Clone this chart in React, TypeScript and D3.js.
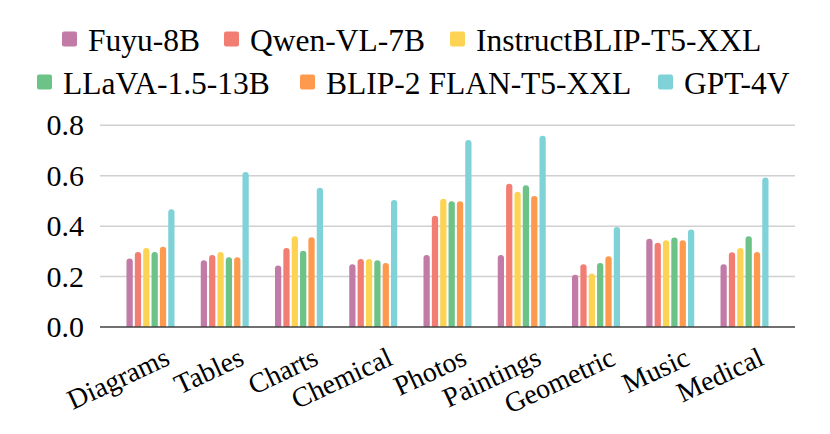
import React, { useEffect, useRef } from "react";
import * as d3 from "d3";

const categories = [
  "Diagrams",
  "Tables",
  "Charts",
  "Chemical",
  "Photos",
  "Paintings",
  "Geometric",
  "Music",
  "Medical",
];
const models = [
  "Fuyu-8B",
  "Qwen-VL-7B",
  "InstructBLIP-T5-XXL",
  "LLaVA-1.5-13B",
  "BLIP-2 FLAN-T5-XXL",
  "GPT-4V",
];
const colors = ["#c17ba6", "#f27d72", "#fdd353", "#6cc287", "#fd9a4e", "#7fd3d8"];
// one array per model, in category order
const fuyu = [0.272, 0.265, 0.244, 0.249, 0.286, 0.286, 0.207, 0.35, 0.249];
const qwen = [0.297, 0.286, 0.313, 0.27, 0.441, 0.568, 0.249, 0.334, 0.297];
const instructBlip = [0.313, 0.297, 0.36, 0.27, 0.509, 0.536, 0.212, 0.344, 0.313];
const llava = [0.297, 0.277, 0.302, 0.265, 0.499, 0.562, 0.254, 0.355, 0.36];
const blip2 = [0.318, 0.277, 0.356, 0.254, 0.499, 0.52, 0.281, 0.344, 0.297];
const gpt4v = [0.467, 0.615, 0.552, 0.504, 0.742, 0.759, 0.397, 0.387, 0.593];
const seriesValues = [fuyu, qwen, instructBlip, llava, blip2, gpt4v];
const yTicks = [0, 0.2, 0.4, 0.6, 0.8];

const W = 830;
const H = 434;
const plot = { left: 100, right: 795, top: 125, bottom: 327 };
const serifName = "Liberation Serif";

// legend layout: swatch left edge per item, baseline per row
const legendX = [62, 224, 450, 37, 300, 658];
const legendBase = [51, 51, 51, 94, 94, 94];

const x = d3
  .scaleBand()
  .domain(categories)
  .range([plot.left, plot.right])
  .paddingInner(0)
  .paddingOuter(0.18);
const inner = d3.scaleBand().domain(models).range([-24, 24]).paddingInner(0.25);
const y = d3
  .scaleLinear()
  .domain([0, 0.8])
  .range([plot.bottom, plot.top + 0.3]);

const barPath = (cat: string, m: string, v: number) => {
  const bw = inner.bandwidth();
  const r = bw / 2;
  const x0 = (x(cat) as number) + x.bandwidth() / 2 + (inner(m) as number);
  const top = y(v);
  const base = y(0);
  return `M${x0},${base}V${top + r}A${r},${r} 0 0 1 ${x0 + bw},${top + r}V${base}Z`;
};

const Label = (props: {
  x?: number;
  y?: number;
  size: number;
  anchor?: string;
  transform?: string;
  children: React.ReactNode;
}) => (
  <text
    x={props.x}
    y={props.y}
    transform={props.transform}
    textAnchor={props.anchor}
    fontFamily={serifName}
    fontSize={props.size}
    data-size={props.size}
  >
    {props.children}
  </text>
);

const App = () => {
  const ref = useRef<SVGSVGElement>(null);

  useEffect(() => {
    // force the serif face even if a page stylesheet overrides text fonts
    d3.select(ref.current)
      .selectAll<SVGTextElement, unknown>("text")
      .each(function () {
        this.style.setProperty("font-family", `"${serifName}", "Times New Roman", serif`, "important");
        this.style.setProperty("font-size", `${this.getAttribute("data-size")}px`, "important");
      });
  }, []);

  return (
    <svg ref={ref} width={W - 8} height={H - 8} fontFamily={serifName}>
      <g transform="translate(-8,-8)">
        <rect x={0} y={0} width={W} height={H} fill="#fff" />
        {models.map((m, si) => (
          <g key={m}>
            <rect
              x={legendX[si]}
              y={legendBase[si] - 19.5}
              width={15}
              height={15}
              rx={2}
              fill={colors[si]}
            />
            <Label x={legendX[si] + 26} y={legendBase[si]} size={31.5}>
              {m}
            </Label>
          </g>
        ))}
        {yTicks
          .filter((t) => t > 0)
          .map((t) => (
            <line
              key={t}
              x1={plot.left}
              x2={plot.right}
              y1={y(t)}
              y2={y(t)}
              stroke="#d0d0d0"
              strokeWidth={1.5}
            />
          ))}
        {yTicks.map((t) => (
          <Label key={t} x={84} y={y(t) + 10} size={30} anchor="end">
            {d3.format(".1f")(t)}
          </Label>
        ))}
        {models.map((m, si) => (
          <g key={m} fill={colors[si]}>
            {seriesValues[si].map((v, i) => (
              <path key={i} d={barPath(categories[i], m, v)} />
            ))}
          </g>
        ))}
        <line
          x1={plot.left}
          x2={plot.right}
          y1={y(0)}
          y2={y(0)}
          stroke="#404040"
          strokeWidth={1.5}
        />
        {categories.map((c) => (
          <Label
            key={c}
            transform={`translate(${(x(c) as number) + x.bandwidth() / 2 + 21},364) rotate(-25)`}
            anchor="end"
            size={28}
          >
            {c}
          </Label>
        ))}
      </g>
    </svg>
  );
};

export default App;
